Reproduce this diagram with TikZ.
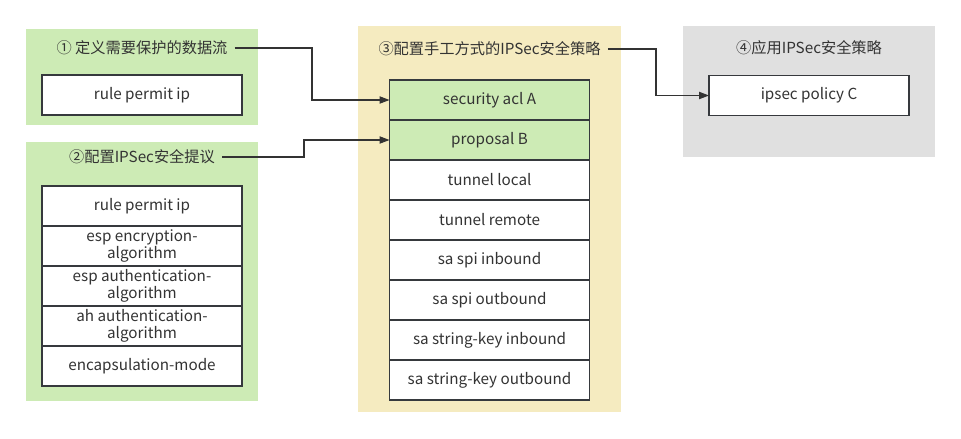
\documentclass[tikz,border=0pt]{standalone}
\usepackage{fontspec}
\setmainfont{Noto Sans CJK SC}
\usetikzlibrary{arrows.meta,backgrounds,positioning}
\definecolor{ink}{HTML}{333333}
\definecolor{edge}{HTML}{36393D}
\definecolor{greenfill}{HTML}{CDEBB5}
\definecolor{yellowfill}{HTML}{F5EBC0}
\definecolor{grayfill}{HTML}{E0E0E0}
\tikzset{
  flow/.style={
    -{Triangle[length=3mm,width=2.2mm]},
    draw=ink,
    line width=0.9pt
  },
  cell/.style={
    draw=edge,
    fill=white,
    line width=0.9pt,
    minimum width=6cm,
    minimum height=1.2cm,
    align=center,
    inner sep=0pt,
    outer sep=0pt,
    text=ink
  },
  hot cell/.style={
    cell,
    fill=greenfill
  },
  caption/.style={
    text=ink,
    inner xsep=6pt,
    inner ysep=2pt
  }
}

\begin{document}
\begin{tikzpicture}[x=0.03cm,y=-0.03cm,font=\fontsize{13pt}{14.5pt}\selectfont]
  \useasboundingbox (0,0) rectangle (961,438);
  \begin{scope}[on background layer]
    \fill[greenfill] (26,29) rectangle (258,125);
    \fill[greenfill] (26,142) rectangle (258,401);
    \fill[yellowfill] (358,26) rectangle (621,412);
    \fill[grayfill] (683,26) rectangle (935,157);
  \end{scope}

  % data flow
  \node[caption] (title-flow) at (142,48) {① 定义需要保护的数据流};
  \node[cell] (flow-rule) at (142,95) {rule permit ip};

  % proposal
  \node[caption] (title-proposal) at (142,157) {②配置IPSec安全提议};
  \node[cell] (prop-rule) at (142,206) {rule permit ip};
  \node[cell] (prop-esp-enc) at (142,246) {esp encryption-\\algorithm};
  \node[cell] (prop-esp-auth) at (142,286) {esp authentication-\\algorithm};
  \node[cell] (prop-ah-auth) at (142,326) {ah authentication-\\algorithm};
  \node[cell] (prop-mode) at (142,366) {encapsulation-mode};

  % manual policy
  \node[caption] (title-policy) at (489.5,49) {③配置手工方式的IPSec安全策略};
  \node[hot cell] (policy-acl) at (489.5,100) {security acl A};
  \node[hot cell] (policy-proposal) at (489.5,140) {proposal B};
  \node[cell] (policy-local) at (489.5,180) {tunnel local};
  \node[cell] (policy-remote) at (489.5,220) {tunnel remote};
  \node[cell] (policy-spi-in) at (489.5,260) {sa spi inbound};
  \node[cell] (policy-spi-out) at (489.5,300) {sa spi outbound};
  \node[cell] (policy-key-in) at (489.5,340) {sa string-key inbound};
  \node[cell] (policy-key-out) at (489.5,380) {sa string-key outbound};

  % apply
  \node[caption] (title-apply) at (809,48) {④应用IPSec安全策略};
  \node[cell] (apply-policy) at (809,95.5) {ipsec policy C};

  \coordinate (bend-acl) at (312,0);
  \coordinate (bend-proposal) at (304,0);
  \coordinate (bend-apply) at (656,0);

  \draw[flow] (title-flow.east) -- (title-flow.east -| bend-acl) |- (policy-acl.west);
  \draw[flow] (title-proposal.east) -- (title-proposal.east -| bend-proposal) |- (policy-proposal.west);
  \draw[flow] (title-policy.east) -- (title-policy.east -| bend-apply) |- (apply-policy.west);
\end{tikzpicture}
\end{document}
